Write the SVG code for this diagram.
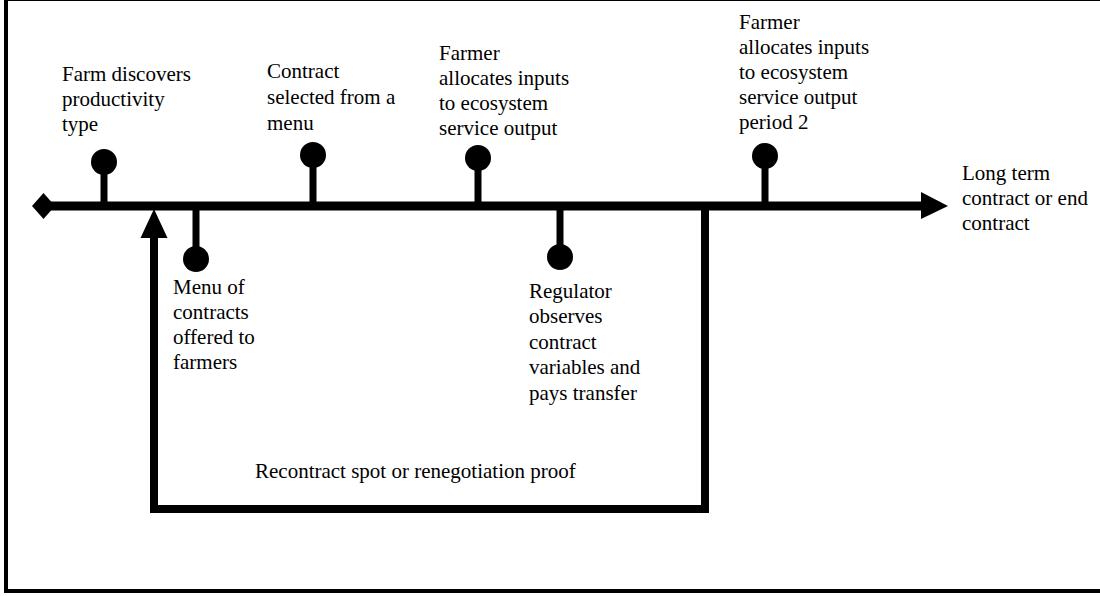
<svg xmlns="http://www.w3.org/2000/svg" width="1100" height="596" viewBox="0 0 1100 596">
<style>
text{font-family:'Liberation Serif','Times New Roman',serif;font-size:21px;fill:#000}
.ln{stroke:#000;fill:none}
.stem{stroke:#000;stroke-width:7}
.dot{fill:#000}
.head{fill:#000}
</style>
<rect x="0" y="0" width="1100" height="596" fill="#fff"/>
<rect x="6" y="-1" width="1110" height="592" fill="none" stroke="#000" stroke-width="4"/>
<g id="connectors">
<line class="ln" x1="44" y1="206" x2="924" y2="206" stroke-width="9"/>
<polygon class="head" points="32,206 43.5,193 55,206 43.5,219"/>
<polygon class="head" points="921,192 948,206 921,219"/>
<polyline class="ln" points="705,206 705,509 154,509 154,235" stroke-width="8"/>
<polygon class="head" points="140.5,238 154,209 167.5,238"/>
</g>
<g id="n1">
<line class="stem" x1="104" y1="162" x2="104" y2="206"/>
<circle class="dot" cx="104" cy="162" r="13"/>
<text><tspan x="62" y="81">Farm discovers</tspan><tspan x="62" y="106">productivity</tspan><tspan x="62" y="131">type</tspan></text>
</g>
<g id="n2">
<line class="stem" x1="196" y1="206" x2="196" y2="259"/>
<circle class="dot" cx="196" cy="259" r="13"/>
<text><tspan x="173" y="294">Menu of</tspan><tspan x="173" y="319">contracts</tspan><tspan x="173" y="344">offered to</tspan><tspan x="173" y="369">farmers</tspan></text>
</g>
<g id="n3">
<line class="stem" x1="313" y1="155" x2="313" y2="206"/>
<circle class="dot" cx="313" cy="155" r="13"/>
<text><tspan x="267" y="78">Contract</tspan><tspan x="267" y="104">selected from a</tspan><tspan x="267" y="130">menu</tspan></text>
</g>
<g id="n4">
<line class="stem" x1="478" y1="158" x2="478" y2="206"/>
<circle class="dot" cx="478" cy="158" r="13"/>
<text><tspan x="439" y="60">Farmer</tspan><tspan x="439" y="85">allocates inputs</tspan><tspan x="439" y="110">to ecosystem</tspan><tspan x="439" y="135">service output</tspan></text>
</g>
<g id="n5">
<line class="stem" x1="560" y1="206" x2="560" y2="257"/>
<circle class="dot" cx="560" cy="257" r="13"/>
<text><tspan x="529" y="298">Regulator</tspan><tspan x="529" y="323">observes</tspan><tspan x="529" y="349">contract</tspan><tspan x="529" y="374">variables and</tspan><tspan x="529" y="400">pays transfer</tspan></text>
</g>
<g id="n6">
<line class="stem" x1="765" y1="156" x2="765" y2="206"/>
<circle class="dot" cx="765" cy="156" r="13"/>
<text><tspan x="739" y="29">Farmer</tspan><tspan x="739" y="54">allocates inputs</tspan><tspan x="739" y="79">to ecosystem</tspan><tspan x="739" y="104">service output</tspan><tspan x="739" y="129">period 2</tspan></text>
</g>
<g id="n7">
<text><tspan x="962" y="180">Long term</tspan><tspan x="962" y="205">contract or end</tspan><tspan x="962" y="230">contract</tspan></text>
</g>
<g id="n8">
<text x="255" y="478">Recontract spot or renegotiation proof</text>
</g>
</svg>
